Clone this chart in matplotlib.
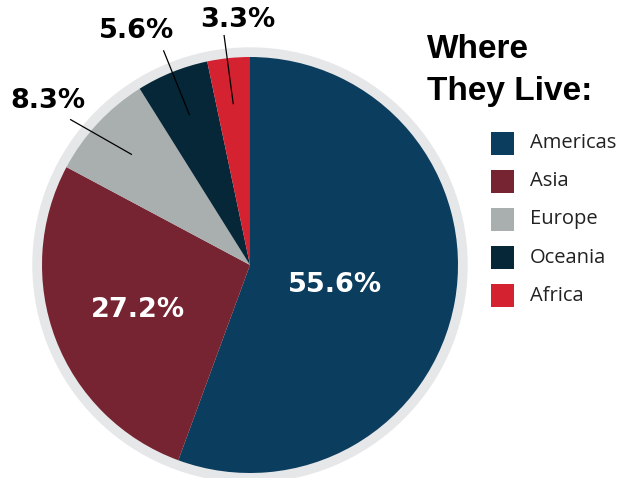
import numpy as np
import matplotlib
matplotlib.use("Agg")
import matplotlib.pyplot as plt
from matplotlib.patches import Circle, Rectangle

# data
regions = ["Americas", "Asia", "Europe", "Oceania", "Africa"]
shares = [55.6, 27.2, 8.3, 5.6, 3.3]
colors = ["#0b3d5e", "#772432", "#a9afaf", "#062738", "#d42231"]
labels = ["55.6%", "27.2%", "8.3%", "5.6%", "3.3%"]

# layout (pixels, y measured from top)
W, H = 620, 478
cx, cy = 250, 265
R = 208
inside = [True, True, False, False, False]
label_r = [0.42, 0.58, 1.25, 1.25, 1.18]
label_da = [-3, 1, 4, 4, -3]
line_da = [0, 0, 4, 0, 0.5]

def py(y):
	return H - y

fig = plt.figure(figsize=(W / 100, H / 100), dpi=100)
ax = fig.add_axes([0, 0, 1, 1])

ax.add_patch(Circle((cx, py(cy)), R + 9, color="#e6e7e8", zorder=0))
wedges, _ = ax.pie(shares, colors=colors, startangle=90, counterclock=False,
	radius=R, center=(cx, py(cy)), wedgeprops=dict(linewidth=0), frame=True)
ax.set_xlim(0, W)
ax.set_ylim(0, H)
ax.set_aspect("equal")
ax.axis("off")

lab_font = dict(family="DejaVu Sans", weight="bold", fontsize=19.5)
for w, lab, ins, lr, da, lda in zip(wedges, labels, inside, label_r, label_da, line_da):
	mid = np.deg2rad((w.theta1 + w.theta2) / 2)
	a = mid + np.deg2rad(da)
	tx = cx + lr * R * np.cos(a)
	ty = py(cy) + lr * R * np.sin(a)
	ax.text(tx, ty, lab, color="white" if ins else "black", ha="center", va="center", **lab_font)
	if not ins:
		r0, r1 = 0.78, 1.11
		a1 = mid + np.deg2rad(lda)
		ax.plot([cx + r0 * R * np.cos(mid), cx + r1 * R * np.cos(a1)],
			[py(cy) + r0 * R * np.sin(mid), py(cy) + r1 * R * np.sin(a1)],
			color="black", lw=0.9, zorder=5)

title_font = dict(family=["DejaVu Sans Condensed", "Liberation Sans", "DejaVu Sans"],
	weight="bold", fontstretch="condensed", fontsize=24)
ax.text(427, py(58), "Where", va="baseline", ha="left", **title_font)
ax.text(427, py(100), "They Live:", va="baseline", ha="left", **title_font)

for i, (reg, col) in enumerate(zip(regions, colors)):
	yc = 143 + i * 38.2
	ax.add_patch(Rectangle((491, py(yc) - 11.5), 23, 23, color=col, lw=0))
	ax.text(530, py(yc), reg, va="center", ha="left", fontsize=14.5,
		family=["Open Sans", "DejaVu Sans"], color="#222222")

fig.savefig("out.png", dpi=100)
